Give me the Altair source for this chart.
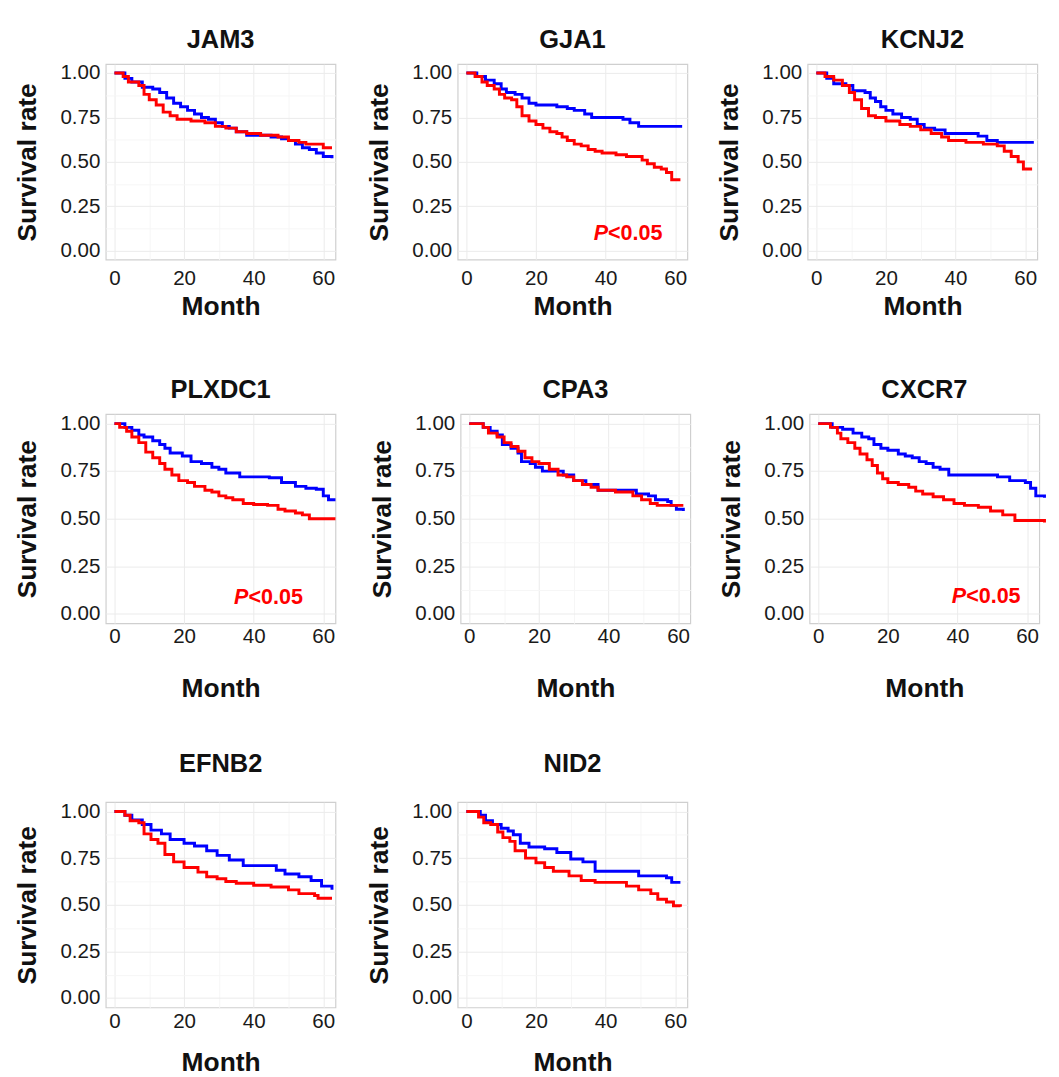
import altair as alt
import pandas as pd

BLUE = "#0000ff"
RED = "#ff0000"
FONT = "Liberation Sans"

# ---- data (Kaplan-Meier curves) ----
JAM3_BLUE_M = [0, 3, 5, 8, 11, 13, 15, 17, 19, 21, 23, 25, 27, 29, 31, 33, 35, 38, 45, 48, 50, 52, 54, 56, 58, 60, 62.5]
JAM3_BLUE_S = [1.0, 0.97, 0.95, 0.92, 0.91, 0.89, 0.86, 0.83, 0.81, 0.79, 0.77, 0.75, 0.74, 0.72, 0.70, 0.69, 0.67, 0.65, 0.64, 0.63, 0.62, 0.60, 0.58, 0.57, 0.55, 0.53, 0.52]
JAM3_RED_M = [0, 2.5, 4, 7, 8.5, 10, 12, 14, 16, 18, 22, 26, 29, 32, 35, 38, 42, 47, 50, 53, 55, 58, 60, 62.5]
JAM3_RED_S = [1.0, 0.98, 0.95, 0.93, 0.88, 0.85, 0.82, 0.78, 0.76, 0.74, 0.73, 0.72, 0.70, 0.69, 0.67, 0.66, 0.65, 0.64, 0.62, 0.61, 0.60, 0.60, 0.58, 0.58]

GJA1_BLUE_M = [0, 3, 5.5, 8, 10, 11.5, 14, 16, 18, 20, 23, 26, 29, 31, 34, 36, 43, 45, 47, 49.5, 62]
GJA1_BLUE_S = [1.0, 0.98, 0.96, 0.94, 0.91, 0.89, 0.88, 0.86, 0.83, 0.82, 0.82, 0.81, 0.80, 0.79, 0.77, 0.75, 0.75, 0.74, 0.72, 0.70, 0.70]
GJA1_RED_M = [0, 2.5, 4.5, 6, 8, 9.5, 11, 13, 14.5, 16, 18, 20, 22, 24, 26, 27.5, 29, 31, 33, 35, 37, 39, 43, 46, 49, 50.5, 52, 54, 56, 57.5, 59, 61.5]
GJA1_RED_S = [1.0, 0.98, 0.95, 0.93, 0.91, 0.88, 0.86, 0.85, 0.81, 0.76, 0.73, 0.71, 0.69, 0.67, 0.66, 0.64, 0.62, 0.60, 0.59, 0.57, 0.56, 0.55, 0.54, 0.53, 0.53, 0.51, 0.49, 0.47, 0.46, 0.44, 0.40, 0.40]

KCNJ2_BLUE_M = [0, 3, 5, 8.5, 10.5, 14, 15.5, 17, 18.5, 20, 22, 24.5, 27, 29, 31, 34, 37, 44.5, 46.5, 49, 52, 62.5]
KCNJ2_BLUE_S = [1.0, 0.97, 0.94, 0.93, 0.90, 0.89, 0.86, 0.84, 0.81, 0.79, 0.77, 0.75, 0.74, 0.71, 0.69, 0.68, 0.66, 0.66, 0.645, 0.62, 0.61, 0.61]
KCNJ2_RED_M = [0, 2.5, 5, 7.5, 9.5, 11, 13, 15, 17, 20, 24, 27, 30, 33, 36, 38, 43, 48, 52, 54, 56, 58, 59.5, 62]
KCNJ2_RED_S = [1.0, 0.98, 0.96, 0.93, 0.89, 0.85, 0.80, 0.76, 0.75, 0.73, 0.71, 0.70, 0.68, 0.66, 0.64, 0.62, 0.61, 0.60, 0.59, 0.56, 0.53, 0.50, 0.46, 0.46]

PLXDC1_BLUE_M = [0, 3, 5, 7, 8.5, 11, 13, 14.5, 16, 19.5, 22, 25, 28, 30, 32, 36, 44.5, 48, 52, 55, 58, 60, 61.5, 63.5]
PLXDC1_BLUE_S = [1.0, 0.98, 0.965, 0.94, 0.93, 0.91, 0.89, 0.87, 0.845, 0.83, 0.80, 0.79, 0.77, 0.76, 0.74, 0.72, 0.715, 0.69, 0.67, 0.66, 0.655, 0.62, 0.60, 0.60]
PLXDC1_RED_M = [0, 1.5, 3.5, 5, 7, 9, 11, 13, 14.5, 16.5, 18.5, 21, 23, 26, 28, 30, 32, 34, 37, 40, 44, 47, 49, 52, 54, 56, 63.5]
PLXDC1_RED_S = [1.0, 0.98, 0.96, 0.93, 0.90, 0.85, 0.82, 0.79, 0.76, 0.73, 0.70, 0.69, 0.67, 0.65, 0.64, 0.62, 0.61, 0.60, 0.58, 0.575, 0.57, 0.55, 0.54, 0.53, 0.52, 0.50, 0.50]

CPA3_BLUE_M = [0, 4, 6, 8, 9.5, 12, 14, 15, 17.5, 19, 21, 25, 27, 30, 33.5, 37, 45, 48, 51.5, 53.5, 57, 58, 59.5, 61.5]
CPA3_BLUE_S = [1.0, 0.98, 0.96, 0.94, 0.89, 0.87, 0.845, 0.80, 0.79, 0.77, 0.75, 0.75, 0.73, 0.70, 0.68, 0.65, 0.65, 0.63, 0.62, 0.60, 0.59, 0.57, 0.55, 0.54]
CPA3_RED_M = [0, 4, 5.5, 8, 10, 12, 14, 16, 18, 20, 23, 25.5, 28, 30, 32.5, 35, 37, 42, 47, 49.5, 52, 54, 58, 61.5]
CPA3_RED_S = [1.0, 0.98, 0.95, 0.93, 0.90, 0.88, 0.855, 0.82, 0.80, 0.79, 0.76, 0.73, 0.72, 0.70, 0.68, 0.665, 0.65, 0.64, 0.62, 0.60, 0.58, 0.57, 0.57, 0.57]

CXCR7_BLUE_M = [0, 4, 7, 10, 12.5, 14.5, 16, 18, 20, 23, 25, 27, 29, 31, 33, 35, 37.5, 49.5, 51.5, 55, 59.5, 61, 62.5, 65]
CXCR7_BLUE_S = [1.0, 0.98, 0.97, 0.95, 0.93, 0.92, 0.89, 0.87, 0.86, 0.84, 0.83, 0.82, 0.80, 0.79, 0.77, 0.76, 0.73, 0.73, 0.72, 0.70, 0.69, 0.66, 0.62, 0.61]
CXCR7_RED_M = [0, 3.5, 5.5, 6.5, 8.5, 10.5, 12, 14, 15.5, 17, 18.5, 20, 23, 26, 28, 30, 33, 36, 39, 42, 46, 49.5, 53, 56.5, 65]
CXCR7_RED_S = [1.0, 0.98, 0.95, 0.92, 0.90, 0.87, 0.84, 0.81, 0.78, 0.74, 0.71, 0.69, 0.68, 0.665, 0.645, 0.63, 0.615, 0.60, 0.58, 0.57, 0.56, 0.54, 0.52, 0.49, 0.48]

EFNB2_BLUE_M = [0, 3, 5, 8, 10.5, 13.5, 16, 20, 23, 26.5, 29.5, 33, 37, 44.5, 46.5, 49, 53, 56.5, 59.5, 62.5]
EFNB2_BLUE_S = [1.0, 0.98, 0.955, 0.93, 0.90, 0.88, 0.85, 0.83, 0.815, 0.79, 0.765, 0.74, 0.71, 0.71, 0.685, 0.665, 0.65, 0.63, 0.60, 0.58]
EFNB2_RED_M = [0, 3, 4.5, 7, 8.5, 10.5, 12.5, 14.5, 17, 20, 24, 26.5, 29.5, 32, 35, 40, 45, 50, 53, 57.5, 58.5, 62.5]
EFNB2_RED_S = [1.0, 0.98, 0.95, 0.94, 0.88, 0.85, 0.83, 0.77, 0.73, 0.70, 0.675, 0.65, 0.64, 0.625, 0.615, 0.605, 0.595, 0.58, 0.56, 0.55, 0.535, 0.535]

NID2_BLUE_M = [0, 4, 5.5, 7.5, 10, 12, 13.5, 15.5, 18, 22.5, 26, 30, 33.5, 37, 45, 49.5, 57.5, 59, 61.5]
NID2_BLUE_S = [1.0, 0.98, 0.95, 0.93, 0.91, 0.895, 0.875, 0.83, 0.81, 0.80, 0.78, 0.745, 0.73, 0.68, 0.68, 0.655, 0.645, 0.62, 0.62]
NID2_RED_M = [0, 3.5, 5, 7, 9, 10.5, 12.5, 14, 17, 20, 22.5, 25, 29.5, 33, 37, 42, 46, 49.5, 53, 55, 57.5, 59.5, 61.5]
NID2_RED_S = [1.0, 0.97, 0.94, 0.93, 0.89, 0.86, 0.84, 0.79, 0.75, 0.725, 0.70, 0.68, 0.655, 0.63, 0.62, 0.62, 0.60, 0.58, 0.56, 0.53, 0.515, 0.495, 0.49]

# P-value annotations: gene -> (month, survival) anchor
P_LABELS = {"GJA1": (40.7, 0.10), "PLXDC1": (38.5, 0.088), "CXCR7": (42.5, 0.09)}

X_TICKS = [0, 10, 20, 30, 40, 50, 60]
Y_TICKS = [0, 0.125, 0.25, 0.375, 0.5, 0.625, 0.75, 0.875, 1.0]

PANEL_W = 235


def panel(gene, bm, bs, rm, rs, height, label_pad, title_pad, title_offset):
    xs = alt.Scale(domain=[-2.5, 63.5], nice=False, zero=False)
    ys = alt.Scale(domain=[-0.05, 1.05], nice=False, zero=False)
    xax = alt.Axis(
        values=X_TICKS,
        labelExpr="datum.value % 20 === 0 ? datum.label : ''",
        title="Month",
        titlePadding=title_pad,
        labelPadding=label_pad,
        gridColor={"condition": {"test": "datum.value % 20 !== 0", "value": "#f6f6f6"}, "value": "#ebebeb"},
    )
    yax = alt.Axis(
        values=Y_TICKS,
        labelExpr="(datum.value * 4) % 1 === 0 ? format(datum.value, '.2f') : ''",
        title="Survival rate",
        gridColor={"condition": {"test": "(datum.value * 4) % 1 !== 0", "value": "#f6f6f6"}, "value": "#ebebeb"},
    )
    x = alt.X("Month:Q", scale=xs, axis=xax)
    y = alt.Y("Surv:Q", scale=ys, axis=yax)
    blue = alt.Chart(pd.DataFrame({"Month": bm, "Surv": bs})).mark_line(
        interpolate="step-after", color=BLUE, strokeWidth=3
    ).encode(x=x, y=y)
    red = alt.Chart(pd.DataFrame({"Month": rm, "Surv": rs})).mark_line(
        interpolate="step-after", color=RED, strokeWidth=3
    ).encode(x=x, y=y)
    layers = [blue, red]
    if gene in P_LABELS:
        px, py = P_LABELS[gene]
        pdf = pd.DataFrame({"Month": [px], "Surv": [py]})
        layers.append(
            alt.Chart(pdf).mark_text(text="P", align="right", baseline="middle", fontStyle="italic",
                                     fontWeight="bold", fontSize=22, color=RED, font=FONT)
            .encode(x="Month:Q", y="Surv:Q")
        )
        layers.append(
            alt.Chart(pdf).mark_text(text="<0.05", align="left", baseline="middle",
                                     fontWeight="bold", fontSize=22, color=RED, font=FONT)
            .encode(x="Month:Q", y="Surv:Q")
        )
    return alt.layer(*layers).properties(
        width=PANEL_W,
        height=height,
        title=alt.TitleParams(gene, offset=title_offset, fontSize=26, fontWeight="bold",
                              font=FONT, color="#111111", anchor="middle"),
    )


row1 = alt.hconcat(
    panel("JAM3", JAM3_BLUE_M, JAM3_BLUE_S, JAM3_RED_M, JAM3_RED_S, 200, 8, 6, 10),
    panel("GJA1", GJA1_BLUE_M, GJA1_BLUE_S, GJA1_RED_M, GJA1_RED_S, 200, 8, 6, 10),
    panel("KCNJ2", KCNJ2_BLUE_M, KCNJ2_BLUE_S, KCNJ2_RED_M, KCNJ2_RED_S, 200, 8, 6, 10),
    spacing=26,
)
row2 = alt.hconcat(
    panel("PLXDC1", PLXDC1_BLUE_M, PLXDC1_BLUE_S, PLXDC1_RED_M, PLXDC1_RED_S, 214, 3, 30, 10),
    panel("CPA3", CPA3_BLUE_M, CPA3_BLUE_S, CPA3_RED_M, CPA3_RED_S, 214, 3, 30, 10),
    panel("CXCR7", CXCR7_BLUE_M, CXCR7_BLUE_S, CXCR7_RED_M, CXCR7_RED_S, 214, 3, 30, 10),
    spacing=26,
)
row3 = alt.hconcat(
    panel("EFNB2", EFNB2_BLUE_M, EFNB2_BLUE_S, EFNB2_RED_M, EFNB2_RED_S, 210, 4, 19, 24),
    panel("NID2", NID2_BLUE_M, NID2_BLUE_S, NID2_RED_M, NID2_RED_S, 210, 4, 19, 24),
    spacing=26,
)

top = alt.vconcat(row1, row2, spacing=58)
chart = alt.vconcat(top, row3, spacing=49).configure(
    padding={"top": 6, "left": 5, "right": 0, "bottom": 0},
    background="white",
).configure_view(
    stroke="#cfcfcf", strokeWidth=1.2
).configure_axis(
    domain=False,
    ticks=False,
    labelFont=FONT,
    labelFontSize=21,
    labelColor="#1a1a1a",
    titleFont=FONT,
    titleFontSize=27,
    titleFontWeight="bold",
    titleColor="#111111",
    grid=True,
).configure_axisY(
    labelPadding=6,
    titlePadding=19,
)

chart.save("out.html", embed_options={"renderer": "svg", "actions": False})
